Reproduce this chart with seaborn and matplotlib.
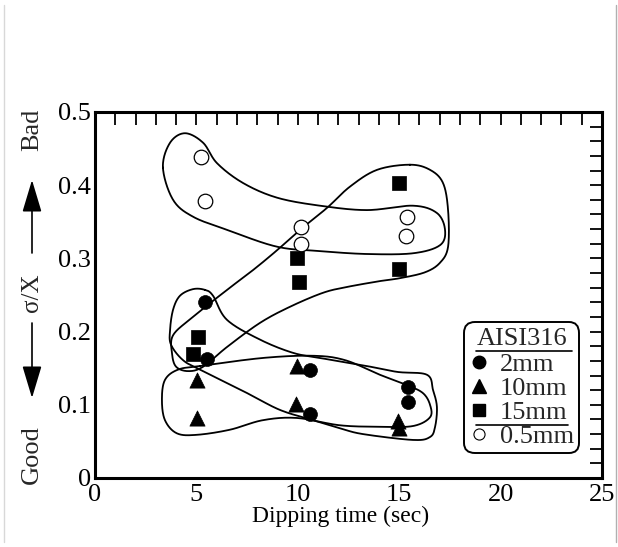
import numpy as np
import pandas as pd
import matplotlib
matplotlib.use("Agg")
import matplotlib.pyplot as plt
import seaborn as sns
from matplotlib.lines import Line2D
from matplotlib.ticker import MultipleLocator

# ---------------- data ----------------
groups = ["2mm", "10mm", "15mm", "0.5mm"]
time_2mm = [5.4, 5.5, 10.6, 10.6, 15.45, 15.45]
ratio_2mm = [0.240, 0.163, 0.148, 0.087, 0.125, 0.104]
time_10mm = [5.05, 5.05, 9.95, 9.9, 14.95, 15.0]
ratio_10mm = [0.134, 0.082, 0.153, 0.101, 0.078, 0.068]
time_15mm = [15.0, 9.95, 10.05, 15.0, 5.1, 4.85]
ratio_15mm = [0.403, 0.301, 0.268, 0.286, 0.192, 0.169]
time_05mm = [5.25, 5.4, 10.15, 10.15, 15.4, 15.35]
ratio_05mm = [0.439, 0.379, 0.343, 0.320, 0.357, 0.330]

x_ticks = [0, 5, 10, 15, 20, 25]
y_ticks = [0, 0.1, 0.2, 0.3, 0.4, 0.5]
y_tick_labels = ["0", "0.1", "0.2", "0.3", "0.4", "0.5"]

# hand-drawn enclosing loops (data coordinates)
loop_05mm = [(3.35, 0.424), (3.70, 0.458), (4.44, 0.471), (5.33, 0.458), (6.02, 0.430),
             (7.30, 0.403), (8.97, 0.383), (11.09, 0.372), (13.41, 0.366), (15.68, 0.372),
             (16.86, 0.362), (17.26, 0.339), (17.01, 0.318), (15.68, 0.307), (13.41, 0.306),
             (11.09, 0.310), (8.97, 0.316), (6.51, 0.339), (4.83, 0.357), (3.85, 0.380)]
loop_15mm = [(15.53, 0.428), (16.52, 0.421), (17.16, 0.403), (17.41, 0.366), (17.41, 0.316),
             (17.01, 0.294), (16.27, 0.281), (15.04, 0.273), (14.05, 0.269), (12.43, 0.261),
             (11.24, 0.253), (9.62, 0.234), (8.14, 0.212), (6.51, 0.179), (5.33, 0.152),
             (4.6, 0.146), (4.0, 0.152), (3.8, 0.170), (3.85, 0.195), (4.83, 0.220),
             (6.51, 0.257), (7.79, 0.284), (8.97, 0.311), (10.11, 0.339), (11.44, 0.369),
             (12.57, 0.398), (13.91, 0.421)]
loop_2mm = [(5.42, 0.257), (5.82, 0.249), (6.51, 0.216), (8.14, 0.189), (9.76, 0.171),
            (11.09, 0.164), (13.21, 0.154), (14.89, 0.145), (16.37, 0.141), (16.67, 0.120),
            (16.86, 0.097), (16.77, 0.070), (16.52, 0.056), (15.68, 0.052), (13.21, 0.060),
            (12.08, 0.068), (10.75, 0.079), (9.12, 0.093), (7.50, 0.116), (5.18, 0.148),
            (4.34, 0.161), (3.75, 0.182), (3.70, 0.202), (3.85, 0.230), (4.19, 0.249),
            (4.83, 0.258)]
loop_10mm = [(5.18, 0.153), (8.28, 0.164), (10.75, 0.167), (12.33, 0.161), (14.05, 0.141),
             (15.38, 0.127), (16.17, 0.116), (16.52, 0.100), (16.52, 0.083), (15.68, 0.071),
             (14.05, 0.070), (12.08, 0.072), (9.96, 0.082), (8.28, 0.079), (6.66, 0.066),
             (5.03, 0.059), (4.04, 0.061), (3.45, 0.079), (3.30, 0.107), (3.45, 0.134),
             (4.09, 0.148)]

df = pd.concat([
    pd.DataFrame({"time": time_2mm, "ratio": ratio_2mm, "thick": "2mm"}),
    pd.DataFrame({"time": time_10mm, "ratio": ratio_10mm, "thick": "10mm"}),
    pd.DataFrame({"time": time_15mm, "ratio": ratio_15mm, "thick": "15mm"}),
    pd.DataFrame({"time": time_05mm, "ratio": ratio_05mm, "thick": "0.5mm"}),
], ignore_index=True)


def closed_spline(pts, n=24):
    P = np.asarray(pts, dtype=float)
    N = len(P)
    t = np.linspace(0, 1, n, endpoint=False)[:, None]
    segs = []
    for i in range(N):
        p0, p1, p2, p3 = P[i - 1], P[i], P[(i + 1) % N], P[(i + 2) % N]
        segs.append(0.5 * (2 * p1 + (-p0 + p2) * t
                           + (2 * p0 - 5 * p1 + 4 * p2 - p3) * t ** 2
                           + (-p0 + 3 * p1 - 3 * p2 + p3) * t ** 3))
    out = np.vstack(segs)
    return np.vstack([out, out[:1]])


# ---------------- style ----------------
sns.set_theme(style="white")
plt.rcParams["font.family"] = ["Liberation Serif", "DejaVu Serif"]

W, H = 618, 547
fig = plt.figure(figsize=(W / 100, H / 100), dpi=100)
ax = fig.add_axes([95 / W, 1 - 478 / H, (602 - 95) / W, (478 - 112) / H])

# loops
for loop in (loop_05mm, loop_15mm, loop_2mm, loop_10mm):
    c = closed_spline(loop)
    ax.plot(c[:, 0], c[:, 1], color="black", lw=1.3, zorder=2)

style = {
    "2mm": dict(marker="o", color="black", s=100),
    "10mm": dict(marker="^", color="black", s=120),
    "15mm": dict(marker="s", color="black", s=95),
    "0.5mm": dict(marker="o", facecolor="white", edgecolor="black", linewidth=0.9, s=110),
}
for g in groups:
    sub = df[df["thick"] == g]
    kw = dict(style[g])
    if g != "0.5mm":
        kw["edgecolor"] = "black"
        kw["linewidth"] = 0.5
    sns.scatterplot(data=sub, x="time", y="ratio", ax=ax, zorder=3, legend=False, **kw)

ax.set_xlim(0, 25)
ax.set_ylim(0, 0.5)
ax.set_xticks(x_ticks)
ax.set_xticklabels([str(v) for v in x_ticks])
ax.set_yticks(y_ticks)
ax.set_yticklabels(y_tick_labels)
ax.xaxis.set_minor_locator(MultipleLocator(1))
ax.yaxis.set_minor_locator(MultipleLocator(0.02))
ax.tick_params(which="both", direction="in", top=True, right=True, length=9,
               width=1.3, color="black", labelsize=19, labelcolor="black")
ax.tick_params(axis="x", pad=4)
ax.tick_params(axis="y", pad=3)
for sp in ax.spines.values():
    sp.set_linewidth(2.2)
    sp.set_color("black")
ax.set_xlabel("Dipping time (sec)", fontsize=17, color="black", labelpad=0)
ax.xaxis.label.set_x(0.485)
ax.set_ylabel("")

# legend
handles = [
    Line2D([], [], ls="", marker="o", color="black", markersize=9),
    Line2D([], [], ls="", marker="^", color="black", markersize=10),
    Line2D([], [], ls="", marker="s", color="black", markersize=8.5),
    Line2D([], [], ls="", marker="o", markerfacecolor="white", markeredgecolor="black",
           markeredgewidth=0.8, markersize=8),
]
leg = ax.legend(handles, groups, title="AISI316", loc="lower left",
                bbox_to_anchor=(0.728, 0.068), frameon=True, fancybox=True,
                fontsize=19, title_fontsize=19, handlelength=0.7, handletextpad=0.45,
                labelspacing=0.02, borderpad=0.2, borderaxespad=0)
leg._legend_box.sep = 2
fr = leg.get_frame()
fr.set_edgecolor("black")
fr.set_linewidth(1.4)
fr.set_facecolor("white")
fr.set_alpha(1)
fr.set_boxstyle("round,pad=0,rounding_size=0.4")

fig.canvas.draw()
r = fig.canvas.get_renderer()
fb = fr.get_window_extent(r)
inv = fig.transFigure.inverted()


def hline(x0, x1, y):
    (a, b), (c, d) = inv.transform([(x0, y), (x1, y)])
    fig.add_artist(Line2D([a, c], [b, d], color="black", lw=1.2))


tb = leg.get_title().get_window_extent(r)
hline(fb.x0 + 12, fb.x1 - 7, tb.y0 - 1)
t15 = leg.get_texts()[2].get_window_extent(r)
hline(fb.x0 + 12, t15.x1 + 1, t15.y0 - 1)

# y-axis label: Good <-- sigma/X --> Bad
xl = 32 / W
fig.text(xl, 1 - 455 / H, "Good", rotation=90, ha="center", va="center", fontsize=19)
fig.text(xl, 1 - 293 / H, "σ/X", rotation=90, ha="center", va="center", fontsize=18)
fig.text(xl, 1 - 130 / H, "Bad", rotation=90, ha="center", va="center", fontsize=19)
arrow_kw = dict(arrowstyle="-|>,head_length=1.0,head_width=0.3", color="black",
                lw=1.2, mutation_scale=20, shrinkA=0, shrinkB=0)
fig.add_artist(matplotlib.patches.FancyArrowPatch((xl, 1 - 253 / H), (xl, 1 - 180 / H),
                                                  transform=fig.transFigure, **arrow_kw))
fig.add_artist(matplotlib.patches.FancyArrowPatch((xl, 1 - 323 / H), (xl, 1 - 398 / H),
                                                  transform=fig.transFigure, **arrow_kw))

# scanned page edges
fig.add_artist(Line2D([616 / W, 616 / W], [0.01, 0.99], color="#b0b0b0", lw=1))
fig.add_artist(Line2D([4 / W, 4 / W], [0.01, 0.99], color="#d8d8d8", lw=1))

fig.savefig("out.png", dpi=100, facecolor="white")
